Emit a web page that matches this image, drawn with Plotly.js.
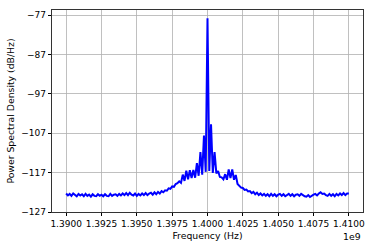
<!DOCTYPE html>
<html>
<head>
<meta charset="utf-8">
<script src="https://cdn.plot.ly/plotly-3.0.1.min.js"></script>
<style>
  html, body { margin: 0; padding: 0; background: #fff; }
  #plot { width: 374px; height: 248px; }
</style>
</head>
<body>
<div id="plot"></div>
<script>
// frequency grid: centre 1.4 GHz, bins every 0.125 MHz from -10 to +10 MHz
var centerHz = 1.4e9;
var binHz = 0.125e6;

// PSD values (dB/Hz), one per bin
var psd = [
  -122.3, -122.8, -122.4, -122.9, -122.3, -122.7, -123.0, -122.4, -122.8, -122.5,
  -123.0, -122.4, -122.9, -122.6, -123.1, -122.5, -122.9, -123.0, -122.5, -122.9,
  -122.6, -123.0, -122.5, -122.9, -123.0, -122.4, -122.9, -122.6, -122.5, -122.9,
  -122.4, -122.8, -122.3, -122.7, -122.2, -122.7, -122.1, -122.6, -122.8, -122.3,
  -122.9, -122.4, -122.8, -122.3, -122.7, -122.2, -122.7, -122.3, -122.1, -122.6,
  -122.0, -122.5, -121.9, -122.3, -121.7, -122.0, -121.5, -121.6, -121.0, -121.1,
  -120.5, -120.6, -119.9, -119.7, -119.2, -119.6, -117.5, -119.1, -116.5, -118.7,
  -116.4, -118.4, -116.3, -118.3, -114.6, -117.8, -111.8, -117.5, -107.6, -116.8,
  -77.8,
  -116.6, -104.7, -117.1, -111.8, -117.2, -116.6, -118.1, -118.2, -118.7, -117.4,
  -118.8, -116.2, -118.4, -116.2, -118.8, -117.6, -119.9, -120.3, -120.8, -120.9,
  -121.4, -121.3, -121.8, -121.7, -122.2, -121.9, -122.5, -122.1, -122.7, -122.3,
  -122.8, -122.4, -122.9, -122.5, -123.0, -122.4, -122.9, -122.5, -123.0, -122.6,
  -122.4, -122.9, -122.5, -123.0, -122.6, -122.4, -122.9, -122.5, -123.0, -122.6,
  -122.5, -122.9, -122.4, -122.8, -123.0, -123.1, -122.7, -123.2, -122.8, -122.6,
  -122.4, -122.8, -122.3, -122.0, -122.4, -122.3, -122.7, -122.9, -122.4, -122.9,
  -122.5, -123.0, -122.4, -122.8, -122.3, -122.7, -122.2, -122.7, -122.3, -122.3
];

var xTickVals = [1.39e9, 1.3925e9, 1.395e9, 1.3975e9, 1.4e9, 1.4025e9, 1.405e9, 1.4075e9, 1.41e9];
var xTickText = ['1.3900', '1.3925', '1.3950', '1.3975', '1.4000', '1.4025', '1.4050', '1.4075', '1.4100'];
var yTickVals = [-77, -87, -97, -107, -117, -127];

var half = (psd.length - 1) / 2;
var freq = psd.map(function(v, i) { return centerHz + (i - half) * binHz; });

var trace = {
  x: freq,
  y: psd,
  type: 'scatter',
  mode: 'lines',
  line: { color: '#0000ff', width: 2 },
  hoverinfo: 'skip'
};

var font = { family: 'DejaVu Sans, sans-serif', size: 9, color: '#000' };
var titleFont = { family: 'DejaVu Sans, sans-serif', size: 9.3, color: '#000' };

var layout = {
  width: 374,
  height: 248,
  margin: { l: 52, r: 11, t: 10, b: 36 },
  paper_bgcolor: '#fff',
  plot_bgcolor: '#fff',
  showlegend: false,
  font: font,
  xaxis: {
    range: [1.389e9, 1.411e9],
    tickmode: 'array',
    tickvals: xTickVals,
    ticktext: xTickText,
    ticks: 'outside',
    ticklen: 3.5,
    tickcolor: '#000',
    showgrid: true,
    gridcolor: '#b0b0b0',
    gridwidth: 0.8,
    zeroline: false,
    showline: true,
    mirror: true,
    linecolor: '#000',
    linewidth: 0.8,
    tickfont: font,
    title: { text: 'Frequency (Hz)', font: titleFont, standoff: 4 }
  },
  yaxis: {
    range: [-127, -75.7],
    tickmode: 'array',
    tickvals: yTickVals,
    ticks: 'outside',
    ticklen: 3.5,
    tickcolor: '#000',
    showgrid: true,
    gridcolor: '#b0b0b0',
    gridwidth: 0.8,
    zeroline: false,
    showline: true,
    mirror: true,
    linecolor: '#000',
    linewidth: 0.8,
    tickfont: font,
    title: { text: 'Power Spectral Density (dB/Hz)', font: titleFont, standoff: 4 }
  },
  annotations: [{
    text: '1e9',
    xref: 'paper', yref: 'paper',
    x: 1.0, y: 0,
    xanchor: 'right', yanchor: 'top',
    yshift: -17,
    showarrow: false,
    font: titleFont
  }]
};

Plotly.newPlot('plot', [trace], layout, { staticPlot: true, displayModeBar: false });
</script>
</body>
</html>
